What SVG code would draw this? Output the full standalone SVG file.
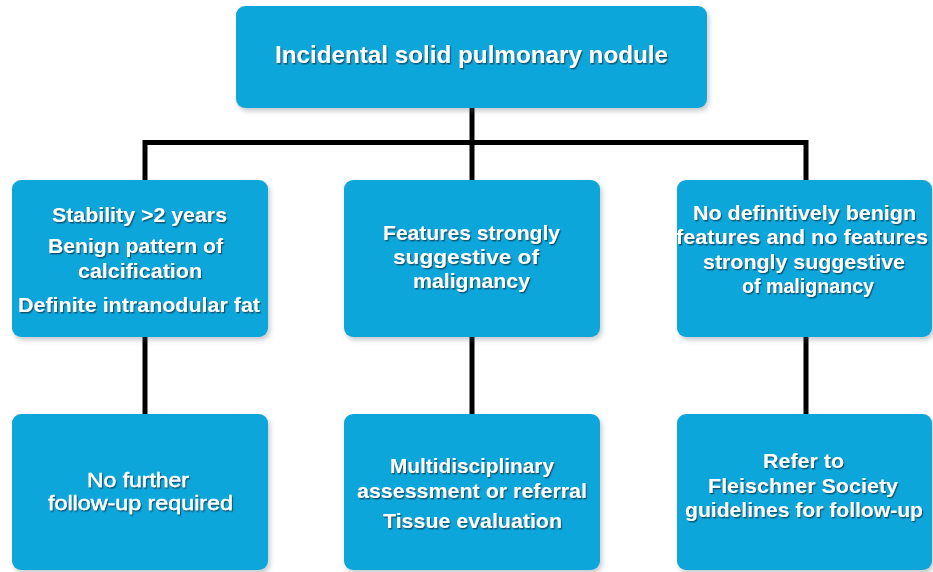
<svg xmlns="http://www.w3.org/2000/svg" width="933" height="572" viewBox="0 0 933 572">
  <style>
    .box { fill: #0ca6db; }
    .lbl { font-family: "Liberation Sans", Arial, sans-serif; font-weight: bold; fill: #ffffff; }
    .lbl text { font-size: 21px; }
    .lbl .big { font-size: 23px; }
    .lbl .thin { font-weight: normal; stroke: #ffffff; stroke-width: 0.45; }
    .wire { stroke: #000000; stroke-width: 5; fill: none; stroke-linecap: butt; }
  </style>
  <defs>
    <filter id="boxShadow" x="-5%" y="-5%" width="115%" height="120%">
      <feDropShadow dx="2" dy="3" stdDeviation="2.5" flood-color="#5a6670" flood-opacity="0.35"/>
    </filter>
    <filter id="textShadow" x="-5%" y="-20%" width="110%" height="150%">
      <feDropShadow dx="1.2" dy="1.5" stdDeviation="0.7" flood-color="#123d52" flood-opacity="0.75"/>
    </filter>
  </defs>
  <rect width="933" height="572" fill="#ffffff"/>

  <!-- connectors -->
  <g id="connectors" class="wire">
    <path d="M472 106 V142.5"/>
    <path d="M145 182 V142.5 H806 V182"/>
    <path d="M472 142.5 V182"/>
    <path d="M145 336 V416"/>
    <path d="M472 336 V416"/>
    <path d="M806 336 V416"/>
  </g>

  <!-- root -->
  <g id="node-root">
    <rect class="box" x="236" y="6" width="471" height="102" rx="9" filter="url(#boxShadow)"/>
    <g class="lbl" filter="url(#textShadow)">
      <text class="big" x="275" y="63" textLength="393" lengthAdjust="spacingAndGlyphs">Incidental solid pulmonary nodule</text>
    </g>
  </g>

  <!-- second row -->
  <g id="node-benign">
    <rect class="box" x="12" y="180" width="256" height="157" rx="9" filter="url(#boxShadow)"/>
    <g class="lbl" filter="url(#textShadow)">
      <text x="52" y="222" textLength="175" lengthAdjust="spacingAndGlyphs">Stability &gt;2 years</text>
      <text x="48" y="253" textLength="175" lengthAdjust="spacingAndGlyphs">Benign pattern of</text>
      <text x="78" y="278" textLength="124" lengthAdjust="spacingAndGlyphs">calcification</text>
      <text x="18" y="312" textLength="242" lengthAdjust="spacingAndGlyphs">Definite intranodular fat</text>
    </g>
  </g>

  <g id="node-malignant">
    <rect class="box" x="344" y="180" width="256" height="157" rx="9" filter="url(#boxShadow)"/>
    <g class="lbl" filter="url(#textShadow)">
      <text x="383" y="240" textLength="177" lengthAdjust="spacingAndGlyphs">Features strongly</text>
      <text x="393" y="264" textLength="146" lengthAdjust="spacingAndGlyphs">suggestive of</text>
      <text x="413" y="288" textLength="117" lengthAdjust="spacingAndGlyphs">malignancy</text>
    </g>
  </g>

  <g id="node-indeterminate">
    <rect class="box" x="677" y="180" width="255" height="157" rx="9" filter="url(#boxShadow)"/>
    <g class="lbl" filter="url(#textShadow)">
      <text x="693" y="220" textLength="223" lengthAdjust="spacingAndGlyphs">No definitively benign</text>
      <text x="676" y="244" textLength="252" lengthAdjust="spacingAndGlyphs">features and no features</text>
      <text x="703" y="269" textLength="202" lengthAdjust="spacingAndGlyphs">strongly suggestive</text>
      <text x="742" y="293" textLength="132" lengthAdjust="spacingAndGlyphs">of malignancy</text>
    </g>
  </g>

  <!-- third row -->
  <g id="node-no-followup">
    <rect class="box" x="12" y="414" width="256" height="156" rx="9" filter="url(#boxShadow)"/>
    <g class="lbl" filter="url(#textShadow)">
      <text class="thin" x="87" y="487" textLength="102" lengthAdjust="spacingAndGlyphs">No further</text>
      <text class="thin" x="48" y="510" textLength="185" lengthAdjust="spacingAndGlyphs">follow-up required</text>
    </g>
  </g>

  <g id="node-tissue">
    <rect class="box" x="344" y="414" width="256" height="156" rx="9" filter="url(#boxShadow)"/>
    <g class="lbl" filter="url(#textShadow)">
      <text x="390" y="473" textLength="164" lengthAdjust="spacingAndGlyphs">Multidisciplinary</text>
      <text x="357" y="498" textLength="230" lengthAdjust="spacingAndGlyphs">assessment or referral</text>
      <text x="383" y="528" textLength="179" lengthAdjust="spacingAndGlyphs">Tissue evaluation</text>
    </g>
  </g>

  <g id="node-fleischner">
    <rect class="box" x="677" y="414" width="255" height="156" rx="9" filter="url(#boxShadow)"/>
    <g class="lbl" filter="url(#textShadow)">
      <text x="763" y="468" textLength="81" lengthAdjust="spacingAndGlyphs">Refer to</text>
      <text x="708" y="493" textLength="190" lengthAdjust="spacingAndGlyphs">Fleischner Society</text>
      <text x="685" y="517" textLength="238" lengthAdjust="spacingAndGlyphs">guidelines for follow-up</text>
    </g>
  </g>
</svg>
